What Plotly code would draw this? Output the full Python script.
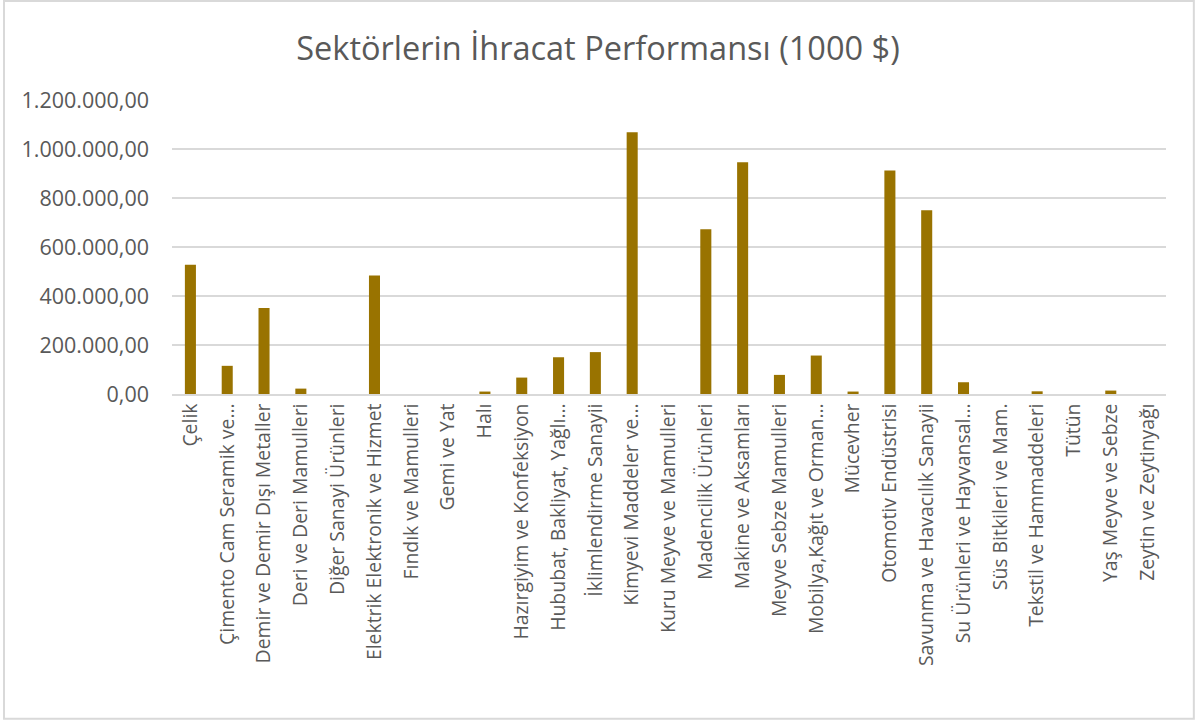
import plotly.graph_objects as go

FONT = "Open Sans"
TEXT_COLOR = "#595959"
GRID_COLOR = "#D9D9D9"
BAR_COLOR = "#997300"

sectors = [
    "Çelik",
    "Çimento Cam Seramik ve…",
    "Demir ve Demir Dışı Metaller",
    "Deri ve Deri Mamulleri",
    "Diğer Sanayi Ürünleri",
    "Elektrik Elektronik ve Hizmet",
    "Fındık ve Mamulleri",
    "Gemi ve Yat",
    "Halı",
    "Hazırgiyim ve Konfeksiyon",
    "Hububat, Bakliyat, Yağlı…",
    "İklimlendirme Sanayii",
    "Kimyevi Maddeler ve…",
    "Kuru Meyve ve Mamulleri",
    "Madencilik Ürünleri",
    "Makine ve Aksamları",
    "Meyve Sebze Mamulleri",
    "Mobilya,Kağıt ve Orman…",
    "Mücevher",
    "Otomotiv Endüstrisi",
    "Savunma ve Havacılık Sanayii",
    "Su Ürünleri ve Hayvansal…",
    "Süs Bitkileri ve Mam.",
    "Tekstil ve Hammaddeleri",
    "Tütün",
    "Yaş Meyve ve Sebze",
    "Zeytin ve Zeytinyağı",
]

# ihracat, 1000 $
exports = [
    528000, 115000, 351000, 22000, 0, 484000, 0, 0, 10000, 67000,
    150000, 171000, 1068000, 0, 672000, 946000, 78000, 157000, 10000,
    912000, 750000, 48000, 0, 11000, 0, 14000, 0,
]

y_ticks = [0, 200000, 400000, 600000, 800000, 1000000, 1200000]

fig = go.Figure(go.Bar(
    x=sectors,
    y=exports,
    marker=dict(color=BAR_COLOR, line=dict(width=0)),
    width=0.3,
    hovertemplate="%{x}<br>%{y:,.2f}<extra></extra>",
))

fig.update_layout(
    title=dict(
        text="Sektörlerin İhracat Performansı (1000 $)",
        x=0.5, xanchor="center",
        y=0.933, yanchor="middle",
        font=dict(family=FONT, size=32.5, color=TEXT_COLOR),
    ),
    separators=",.",
    width=1196, height=720,
    margin=dict(l=172, r=30, t=100, b=326),
    paper_bgcolor="white",
    plot_bgcolor="white",
    font=dict(family=FONT, color=TEXT_COLOR),
    showlegend=False,
    xaxis=dict(
        tickangle=-90,
        tickfont=dict(family=FONT, size=19.4, color=TEXT_COLOR),
        showgrid=False,
        showline=True, linecolor=GRID_COLOR, linewidth=1.5,
        ticks="",
    ),
    yaxis=dict(
        range=[0, 1200000],
        tickvals=y_ticks,
        tickformat=",.2f",
        tickfont=dict(family=FONT, size=21.5, color=TEXT_COLOR),
        showgrid=True, gridcolor=GRID_COLOR, gridwidth=1.5,
        zeroline=False,
        showline=False,
        ticks="",
        ticklabelstandoff=22,
    ),
    # chart border, like the Excel chart area
    shapes=[dict(
        type="rect", xref="paper", yref="paper",
        x0=-0.169, x1=1.028, y0=-1.105, y1=1.337,
        line=dict(color=GRID_COLOR, width=2),
        layer="below",
    )],
)

fig.write_html(
    "out.html",
    config={"displayModeBar": False},
    post_script="document.body.style.margin='0';",
)
